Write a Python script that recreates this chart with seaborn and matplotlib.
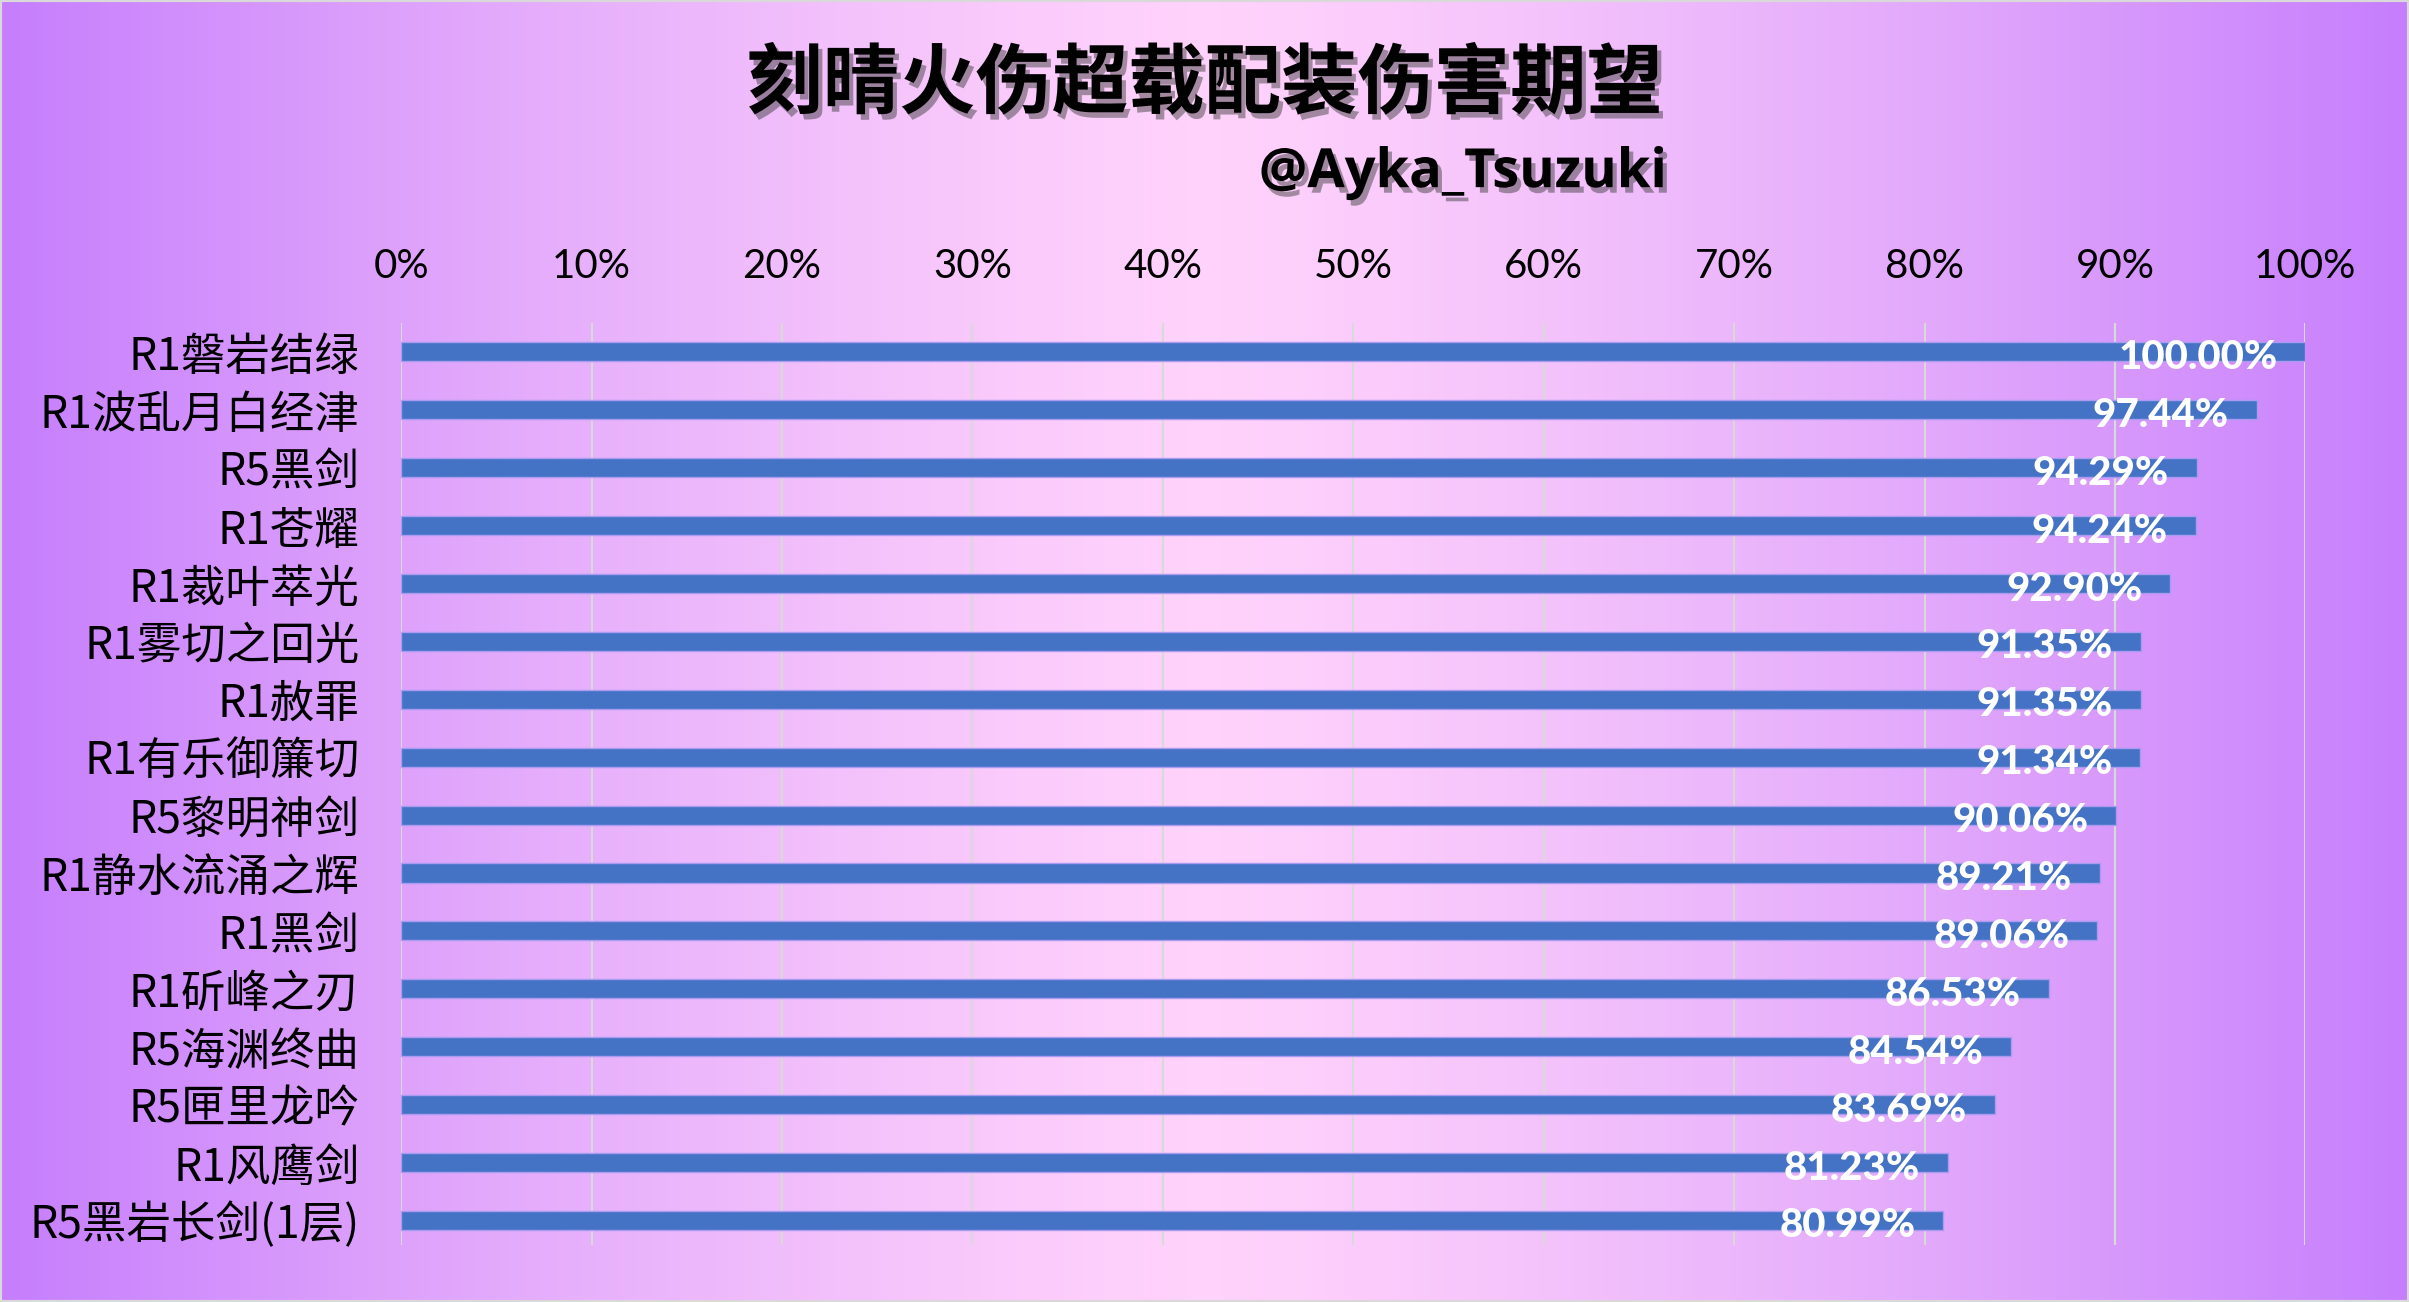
import numpy as np
import pandas as pd
import matplotlib
matplotlib.use("Agg")
import matplotlib.pyplot as plt
import matplotlib.patheffects as pe
from matplotlib.colors import LinearSegmentedColormap
from matplotlib.ticker import PercentFormatter, MultipleLocator
import seaborn as sns

# ---- data ----
weapons = ["R1磐岩结绿", "R1波乱月白经津", "R5黑剑", "R1苍耀", "R1裁叶萃光",
           "R1雾切之回光", "R1赦罪", "R1有乐御簾切", "R5黎明神剑", "R1静水流涌之辉",
           "R1黑剑", "R1斫峰之刃", "R5海渊终曲", "R5匣里龙吟", "R1风鹰剑",
           "R5黑岩长剑(1层)"]
values = [100.00, 97.44, 94.29, 94.24, 92.90, 91.35, 91.35, 91.34, 90.06, 89.21,
          89.06, 86.53, 84.54, 83.69, 81.23, 80.99]
title = "刻晴火伤超载配装伤害期望"
subtitle = "@Ayka_Tsuzuki"

df = pd.DataFrame({"weapon": weapons, "value": values})

sns.set_theme(style="white")
plt.rcParams["font.family"] = ["Noto Sans CJK SC", "DejaVu Sans"]

W, H = 2409, 1302
fig = plt.figure(figsize=(W / 100, H / 100), dpi=100)

# background gradient
bg = fig.add_axes([0, 0, 1, 1], zorder=-10)
x = np.linspace(-1, 1, 600)
t = 1 - np.abs(x) ** 1.3
grad = np.tile(t, (10, 1))
cmap = LinearSegmentedColormap.from_list("bg", ["#C67EFD", "#E3AAFB", "#FFD2FB"])
bg.imshow(grad, aspect="auto", cmap=cmap, extent=[0, 1, 0, 1], vmin=0, vmax=1)
bg.set_axis_off()
fig.patches.append(plt.Rectangle((0, 0), 1, 1, transform=fig.transFigure,
                                 fill=False, edgecolor="#D9D9D9", linewidth=3, zorder=10))

ax = fig.add_axes([0.1665, 0.044, 0.7905, 0.708])
ax.patch.set_alpha(0)
sns.barplot(data=df, y="weapon", x="value", orient="h", ax=ax, color="#4472C4",
            saturation=1, width=0.33, edgecolor="#A99BF0", linewidth=1, zorder=3)

ax.set_xlim(0, 100)
ax.set_ylim(len(weapons) - 0.58, -0.5)
ax.xaxis.set_major_locator(MultipleLocator(10))
ax.xaxis.set_major_formatter(PercentFormatter(100, decimals=0))
ax.xaxis.tick_top()
ax.grid(axis="x", color="#D9D9D9", linewidth=1.5, zorder=0)
ax.grid(axis="y", visible=False)
for s in ax.spines.values():
    s.set_visible(False)
ax.set_xlabel("")
ax.set_ylabel("")
ax.tick_params(axis="x", length=0, pad=27, labelsize=29, labelcolor="#000000")
ax.tick_params(axis="y", length=0, pad=30, labelsize=32, labelcolor="#000000")
for lab in ax.get_xticklabels():
    lab.set_family(["Lato", "DejaVu Sans"])

for i, v in enumerate(values):
    ax.annotate(f"{v:.2f}%", xy=(v, i), xytext=(-20, -4), textcoords="offset points",
                ha="right", va="center", color="white", fontsize=29, fontweight="black",
                family=["Lato", "DejaVu Sans"], zorder=5)

shadow = [pe.SimplePatchShadow(offset=(3, -4), shadow_rgbFace="#333333", alpha=0.45), pe.Normal()]
fig.text(0.5, 0.935, title, ha="center", va="center", fontsize=55, fontweight="bold",
         color="black", path_effects=shadow)
fig.text(0.692, 0.867, subtitle, ha="right", va="center", fontsize=39, fontweight="bold",
         color="black", path_effects=shadow, family=["Open Sans", "DejaVu Sans"])

fig.savefig("out.png", dpi=100)
